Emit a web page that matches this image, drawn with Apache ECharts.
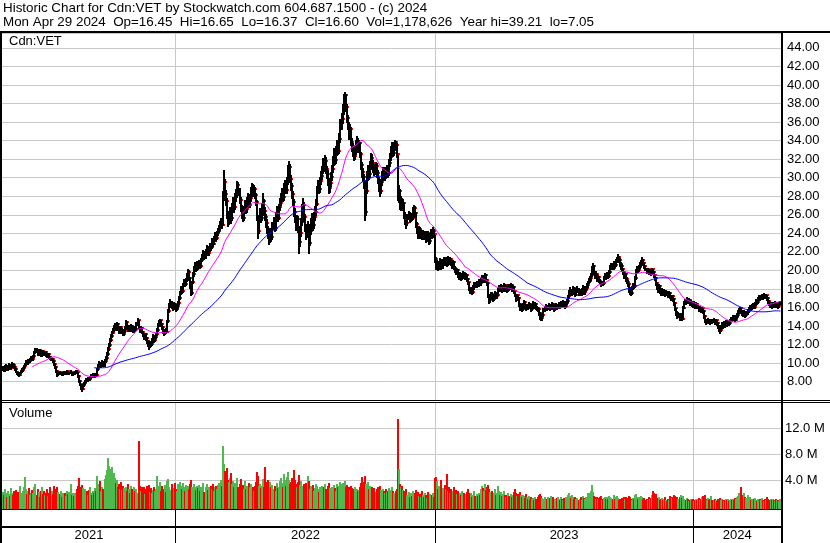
<!DOCTYPE html>
<html><head><meta charset="utf-8">
<script src="https://cdn.jsdelivr.net/npm/echarts/dist/echarts.min.js"></script>
<style>html,body{margin:0;padding:0;background:#fff}#c{width:830px;height:543px}</style>
</head><body><div id="c"></div>
<script>
const titleLine1 = 'Historic Chart for Cdn:VET by Stockwatch.com 604.687.1500 - (c) 2024';
const titleLine2 = 'Mon Apr 29 2024  Op=16.45  Hi=16.65  Lo=16.37  Cl=16.60  Vol=1,178,626  Year hi=39.21  lo=7.05';
const symbolLabel = 'Cdn:VET';
const volumeLabel = 'Volume';
const yearLabels = ['2021', '2022', '2023', '2024'];
const yearStarts = [0, 168, 420, 671];
const maPeriods = [30, 90];

const close = [
9.5,9.3,9.6,9.7,9.4,9.6,9.8,9.5,9.7,9.9,
9.8,9.6,9.4,9.1,8.9,8.8,8.7,9.0,9.2,9.3,
9.5,9.7,9.9,10.1,10.0,10.3,10.2,10.5,10.6,10.4,
10.8,11.2,11.5,11.3,11.0,11.4,11.2,10.9,11.3,11.1,
11.0,11.2,10.9,10.8,11.0,10.7,10.6,10.4,10.5,10.2,
9.9,9.6,9.2,8.8,8.9,9.1,8.9,9.0,8.8,9.0,
9.1,8.9,9.0,9.2,8.9,9.0,9.1,8.8,9.0,8.9,
9.1,9.2,9.0,8.6,8.1,7.7,7.4,7.2,7.6,7.9,
8.1,8.3,8.2,8.4,8.3,8.5,8.7,8.6,8.8,8.6,
8.8,8.7,9.4,9.8,10.0,9.7,9.9,10.1,9.8,10.2,
10.6,11.0,11.5,12.0,12.5,12.9,13.3,13.6,13.9,14.1,
13.8,14.2,13.7,13.5,13.9,13.4,13.6,13.1,13.5,13.8,
14.4,14.0,13.7,13.9,13.6,14.0,13.8,13.5,13.9,13.7,
14.2,14.6,13.9,13.6,13.8,13.4,13.0,12.8,13.1,12.7,
12.4,12.0,11.8,12.3,12.1,12.6,12.9,12.5,12.8,13.1,
13.6,14.1,14.4,14.6,14.2,13.9,13.5,13.2,13.6,13.4,
14.5,15.6,16.3,16.6,16.2,15.9,16.4,16.1,15.8,16.2,
16.5,17.0,17.6,18.1,17.8,18.4,18.8,18.5,19.0,19.4,
19.8,19.2,18.3,17.6,18.7,19.6,20.2,20.6,20.1,20.8,
20.4,20.9,20.5,21.1,21.5,21.9,21.4,22.1,22.4,21.9,
22.3,22.8,22.5,23.2,22.9,23.4,23.8,23.5,24.0,24.3,
24.6,25.0,25.4,24.9,28.0,29.5,28.2,27.5,26.0,25.4,
25.8,26.4,25.6,26.9,27.4,26.8,27.9,28.3,29.2,28.6,
27.6,26.8,26.1,25.7,26.5,27.2,26.6,27.5,27.9,27.1,
27.8,28.6,29.0,28.3,28.8,28.1,27.4,25.8,24.2,25.6,
26.2,25.6,26.8,27.5,26.4,25.8,25.1,24.4,23.9,23.4,
24.2,23.6,24.8,25.3,24.6,25.9,26.4,25.7,26.8,27.3,
27.8,28.4,27.9,28.9,29.3,28.7,29.6,30.8,31.2,29.9,
29.1,28.2,27.4,26.3,25.7,24.9,25.5,24.6,23.1,24.0,
25.2,26.6,27.1,25.8,24.7,23.9,24.8,23.0,24.3,25.1,
25.6,24.9,25.8,26.3,27.2,28.6,29.1,28.8,29.6,30.2,
30.8,31.5,31.1,31.8,30.9,30.4,29.6,28.9,29.4,30.1,
30.9,31.8,32.6,31.9,32.8,33.5,32.9,34.2,35.6,36.3,
37.2,38.4,38.9,37.6,36.4,35.7,34.6,35.2,33.9,33.4,
32.8,32.3,32.9,33.6,34.0,33.2,33.7,32.6,31.4,30.6,
30.1,29.4,26.3,28.6,30.2,30.9,30.4,31.2,32.1,31.6,
31.0,30.7,31.3,30.5,29.8,29.1,28.6,29.5,30.2,30.6,
30.1,30.8,30.4,31.0,30.5,31.6,32.2,32.9,33.4,32.7,
33.3,33.8,33.5,32.6,28.0,28.6,27.0,27.5,26.9,27.3,
26.0,25.4,25.1,25.8,26.0,25.5,25.9,25.7,26.4,26.7,
26.2,25.0,24.3,23.9,24.5,23.8,24.2,23.7,24.1,23.6,
23.9,23.4,24.0,23.5,23.2,23.7,24.1,23.8,24.3,23.9,
21.2,20.5,20.8,20.3,20.7,21.0,20.4,20.9,21.2,20.8,
21.1,20.7,21.3,20.9,21.2,20.8,20.5,20.9,20.3,20.1,
19.8,20.0,19.5,19.3,19.6,19.2,19.5,19.7,19.4,19.3,
19.5,19.1,18.7,18.1,17.8,18.0,17.7,18.2,18.6,18.4,
18.7,18.5,18.9,18.6,19.0,19.3,18.9,19.2,19.5,19.0,
18.6,17.4,16.8,17.1,17.5,17.2,16.9,17.3,17.6,17.2,
17.4,17.9,18.2,18.0,18.3,17.9,18.1,18.4,18.0,18.2,
17.9,18.3,18.1,18.4,18.0,18.2,17.8,17.4,17.0,17.3,
17.0,16.4,15.9,16.2,15.8,16.3,16.6,16.1,15.9,16.2,
16.0,16.4,16.2,15.8,16.3,16.5,16.1,16.4,16.0,15.9,
15.8,15.4,15.0,14.9,15.2,15.7,16.0,16.2,15.9,16.1,
16.3,15.9,16.1,16.4,16.0,15.8,16.2,16.3,16.0,16.2,
16.4,16.2,16.5,16.3,16.6,16.4,16.2,16.5,16.7,17.2,
17.6,17.9,17.5,17.8,18.1,17.7,17.4,17.9,18.0,17.6,
17.8,17.5,17.9,18.2,17.7,17.9,18.1,18.4,18.7,18.9,
19.2,19.5,20.3,20.5,19.8,19.4,19.6,19.1,19.3,18.9,
18.8,18.5,18.7,18.6,19.2,19.5,19.3,19.6,19.4,19.8,
20.4,20.6,20.3,20.8,20.6,21.0,21.3,21.5,21.1,20.7,
20.5,20.1,19.8,19.4,19.6,19.1,18.8,18.5,18.0,17.8,
17.6,18.1,18.4,18.3,19.2,19.9,20.2,20.0,20.4,20.6,
20.9,21.1,20.8,20.5,20.2,19.9,20.1,19.8,20.0,19.7,
20.1,19.8,19.5,19.2,18.6,18.2,17.9,18.3,17.8,17.6,
17.9,17.6,17.8,17.4,17.7,17.5,17.3,17.6,17.2,17.0,
17.2,16.9,16.5,15.9,15.4,15.1,15.3,14.9,15.2,14.8,
16.0,16.5,16.7,16.6,16.9,16.7,16.8,16.5,16.6,16.4,
16.3,16.5,16.2,16.4,16.0,16.1,15.8,16.0,15.7,15.9,
15.6,15.1,14.6,14.4,14.6,14.7,14.5,14.4,14.6,14.5,
14.7,14.4,14.6,14.3,14.0,13.7,13.6,13.9,14.2,14.0,
14.3,14.1,14.4,14.2,14.5,14.3,14.6,14.8,14.7,15.0,
14.9,14.7,15.0,15.2,15.5,15.8,15.9,15.6,15.4,15.3,
15.5,15.2,15.4,15.6,15.9,16.1,15.9,16.2,16.3,16.1,
16.4,16.7,16.6,16.9,17.1,17.0,17.2,17.3,17.1,17.4,
17.2,17.3,17.0,16.7,16.5,16.3,16.4,16.2,16.4,16.3,
16.5,16.3,16.4,16.2,16.5,16.6
];

const high = [
9.7,9.6,9.8,9.9,9.8,9.7,10.0,9.9,9.8,10.1,
10.0,9.9,9.7,9.5,9.2,9.0,8.9,9.1,9.3,9.5,
9.6,9.8,10.0,10.3,10.2,10.4,10.4,10.6,10.8,10.7,
10.9,11.3,11.6,11.6,11.4,11.5,11.5,11.3,11.4,11.4,
11.2,11.3,11.3,11.0,11.1,11.1,10.8,10.7,10.6,10.6,
10.3,10.0,9.7,9.3,9.1,9.2,9.2,9.1,9.1,9.1,
9.2,9.2,9.1,9.3,9.2,9.1,9.3,9.1,9.1,9.1,
9.2,9.3,9.3,9.0,8.7,8.2,7.8,7.5,7.7,8.0,
8.2,8.4,8.4,8.5,8.5,8.6,8.8,8.8,8.9,8.9,
8.9,8.9,9.5,9.9,10.2,10.1,10.0,10.3,10.2,10.4,
10.8,11.2,11.7,12.2,12.7,13.1,13.5,13.8,14.1,14.3,
14.3,14.4,14.3,13.9,14.0,14.0,13.8,13.7,13.6,14.0,
14.6,14.5,14.1,14.1,14.0,14.2,14.1,13.9,14.0,14.0,
14.4,14.9,14.7,14.0,14.0,13.9,13.5,13.1,13.3,13.2,
12.8,12.5,12.1,12.4,12.4,12.7,13.1,13.0,12.9,13.3,
13.8,14.3,14.6,14.8,14.7,14.3,14.0,13.6,13.7,13.8,
14.7,15.8,16.5,16.9,16.7,16.3,16.6,16.5,16.2,16.4,
16.7,17.2,17.8,18.3,18.3,18.6,19.1,19.0,19.2,19.7,
20.1,20.0,19.3,18.5,18.9,19.8,20.5,20.9,20.8,21.0,
21.0,21.1,21.1,21.3,21.8,22.2,22.1,22.3,22.7,22.6,
22.5,23.0,23.0,23.5,23.4,23.7,24.1,24.0,24.3,24.6,
24.9,25.3,25.7,25.6,28.6,30.8,29.9,28.7,27.8,26.4,
26.3,26.8,26.6,27.3,27.9,27.7,28.3,28.8,29.6,29.5,
28.9,27.9,27.1,26.5,26.9,27.6,27.5,27.9,28.3,28.2,
28.2,29.0,29.4,29.3,29.2,29.0,28.4,27.6,26.0,26.0,
26.7,26.5,27.3,28.4,27.7,26.8,26.1,25.5,24.8,24.2,
24.6,24.5,25.2,25.8,25.6,26.3,26.9,26.7,27.2,27.8,
28.3,28.9,28.8,29.4,29.8,29.7,30.1,31.4,31.8,31.5,
30.3,29.4,28.6,27.7,26.7,26.0,26.0,25.9,24.8,24.5,
25.7,27.2,27.8,27.4,26.1,25.0,25.3,25.0,24.8,25.6,
26.2,25.9,26.3,26.9,27.7,29.1,29.7,29.6,30.1,30.7,
31.3,32.1,32.0,32.4,32.2,31.3,30.8,30.0,29.9,30.6,
31.4,32.3,33.2,33.0,33.4,34.1,33.9,34.8,36.3,37.0,
37.9,39.0,39.21,39.0,37.9,36.8,36.0,35.8,35.5,34.3,
33.7,33.2,33.4,34.1,34.5,34.3,34.1,33.9,32.8,31.7,
31.0,30.4,29.6,29.0,30.7,31.4,31.3,31.8,32.7,32.5,
31.9,31.5,31.7,31.6,30.8,30.1,29.4,29.9,30.7,31.1,
30.9,31.2,31.1,31.4,31.3,32.0,32.7,33.4,33.9,33.7,
33.8,34.05,34.0,33.7,32.4,29.2,28.8,28.0,27.8,27.7,
27.4,26.3,25.7,26.1,26.4,26.3,26.2,26.1,26.8,27.1,
26.9,26.3,25.2,24.6,24.8,24.7,24.5,24.4,24.4,24.3,
24.2,24.1,24.3,24.2,23.7,24.0,24.5,24.3,24.7,24.5,
23.8,21.5,21.1,21.0,21.0,21.3,21.2,21.2,21.5,21.4,
21.4,21.3,21.6,21.5,21.5,21.3,21.0,21.1,21.0,20.5,
20.3,20.2,20.1,19.7,19.8,19.7,19.7,19.9,19.8,19.6,
19.7,19.6,19.2,18.8,18.2,18.2,18.1,18.4,18.8,18.8,
18.9,18.9,19.1,19.1,19.2,19.5,19.5,19.4,19.7,19.6,
19.1,18.7,17.5,17.4,17.7,17.7,17.3,17.5,17.8,17.7,
17.6,18.1,18.4,18.4,18.5,18.4,18.3,18.6,18.5,18.4,
18.3,18.5,18.5,18.6,18.5,18.4,18.3,17.9,17.5,17.5,
17.4,17.1,16.5,16.4,16.3,16.5,16.8,16.7,16.3,16.4,
16.3,16.6,16.5,16.3,16.4,16.7,16.6,16.6,16.5,16.2,
16.1,15.9,15.5,15.2,15.4,15.9,16.2,16.4,16.3,16.3,
16.5,16.4,16.3,16.6,16.5,16.1,16.4,16.5,16.4,16.4,
16.6,16.5,16.7,16.6,16.8,16.7,16.5,16.7,16.9,17.4,
17.9,18.2,18.0,18.0,18.3,18.2,17.9,18.1,18.3,18.1,
18.0,18.0,18.1,18.4,18.3,18.1,18.3,18.6,18.9,19.2,
19.4,19.7,20.5,20.8,20.6,19.9,19.9,19.7,19.5,19.4,
19.1,18.9,18.9,18.9,19.4,19.7,19.7,19.8,19.8,20.0,
20.6,20.8,20.8,21.0,21.0,21.2,21.5,21.8,21.6,21.3,
20.9,20.7,20.3,19.9,19.8,19.7,19.3,19.0,18.6,18.2,
18.0,18.3,18.6,18.6,19.4,20.1,20.5,20.4,20.6,20.9,
21.1,21.4,21.2,20.9,20.6,20.3,20.3,20.2,20.2,20.1,
20.3,20.2,19.9,19.6,19.3,18.7,18.3,18.5,18.4,17.9,
18.1,18.0,18.0,17.9,17.9,17.8,17.6,17.8,17.7,17.3,
17.4,17.3,17.0,16.6,16.0,15.6,15.5,15.4,15.4,15.3,
16.2,16.7,16.9,16.9,17.1,17.0,17.0,16.9,16.8,16.7,
16.6,16.7,16.6,16.6,16.5,16.3,16.2,16.2,16.1,16.1,
16.0,15.7,15.2,14.8,14.8,14.9,14.8,14.7,14.8,14.8,
14.9,14.8,14.8,14.7,14.4,14.1,13.9,14.1,14.4,14.3,
14.5,14.4,14.6,14.5,14.7,14.6,14.8,15.0,15.0,15.2,
15.2,15.0,15.2,15.4,15.7,16.0,16.1,16.0,15.7,15.6,
15.7,15.6,15.6,15.8,16.1,16.3,16.2,16.4,16.5,16.4,
16.6,16.9,16.9,17.1,17.3,17.3,17.4,17.5,17.4,17.6,
17.5,17.5,17.4,17.1,16.8,16.6,16.6,16.5,16.6,16.5,
16.7,16.6,16.6,16.5,16.6,16.65
];

const low = [
9.3,9.2,9.2,9.5,9.3,9.3,9.5,9.4,9.4,9.6,
9.7,9.5,9.3,9.0,8.8,8.7,8.6,8.7,8.9,9.1,
9.2,9.4,9.6,9.8,9.9,9.9,10.1,10.1,10.4,10.3,
10.3,10.7,11.1,11.2,10.9,10.9,11.1,10.8,10.8,11.0,
10.9,10.9,10.8,10.7,10.7,10.6,10.5,10.3,10.3,10.1,
9.8,9.5,9.0,8.6,8.7,8.8,8.8,8.8,8.7,8.7,
8.9,8.8,8.8,8.9,8.8,8.8,8.9,8.7,8.7,8.8,
8.8,9.0,8.9,8.5,8.0,7.6,7.2,7.05,7.2,7.5,
7.8,8.0,8.1,8.1,8.2,8.2,8.4,8.5,8.5,8.5,
8.5,8.6,8.7,9.3,9.7,9.6,9.6,9.8,9.7,9.7,
10.1,10.5,10.9,11.4,11.9,12.4,12.8,13.2,13.5,13.7,
13.6,13.7,13.6,13.3,13.4,13.2,13.3,13.0,13.0,13.4,
13.7,13.9,13.5,13.6,13.5,13.5,13.6,13.4,13.4,13.5,
13.6,14.1,13.8,13.4,13.5,13.3,12.9,12.6,12.7,12.5,
12.2,11.8,11.5,11.7,11.9,12.0,12.5,12.3,12.4,12.7,
13.0,13.5,14.0,14.3,14.0,13.7,13.3,13.0,13.1,13.2,
13.4,14.4,15.5,16.1,16.0,15.7,15.8,15.9,15.6,15.7,
16.0,16.4,16.9,17.5,17.6,17.7,18.3,18.3,18.4,18.9,
19.2,19.0,18.1,17.3,17.5,18.6,19.4,20.0,19.9,20.0,
20.2,20.3,20.3,20.4,21.0,21.3,21.2,21.3,21.9,21.7,
21.7,22.1,22.2,22.4,22.6,22.8,23.2,23.2,23.4,23.8,
24.1,24.4,24.8,24.6,24.9,27.6,27.8,27.0,25.6,24.8,
25.0,25.4,25.1,25.4,26.5,26.3,26.6,27.5,27.9,28.1,
27.3,26.4,25.7,25.3,25.4,26.2,26.2,26.3,27.2,26.8,
26.8,27.5,28.3,28.0,28.0,27.8,27.0,25.4,23.5,24.0,
25.3,25.2,25.4,26.5,26.0,25.4,24.7,24.0,23.5,22.8,
23.1,23.2,23.4,24.5,24.2,24.4,25.6,25.3,25.5,26.5,
27.0,27.5,27.5,27.6,28.5,28.3,28.4,29.3,30.4,29.5,
28.7,27.8,27.0,25.9,25.2,24.4,24.5,24.1,21.9,22.6,
23.7,24.9,26.3,25.3,24.2,23.4,23.6,21.9,22.7,23.9,
24.7,24.4,24.6,25.4,26.0,27.0,28.3,28.3,28.5,29.3,
29.9,30.5,30.7,30.8,30.5,30.0,29.2,28.3,28.5,29.1,
29.8,30.6,31.4,31.5,31.6,32.4,32.5,32.7,33.9,35.2,
35.9,36.9,38.0,37.2,36.0,35.2,34.2,34.3,33.5,32.9,
32.3,31.9,32.0,32.6,33.3,32.8,32.9,32.2,30.9,30.1,
29.6,28.9,25.4,26.0,28.3,29.8,29.9,30.1,30.9,31.2,
30.6,30.3,30.4,30.1,29.4,28.6,28.0,28.3,29.2,29.9,
29.7,29.8,30.0,30.1,30.1,30.3,31.3,31.9,32.6,32.3,
32.4,33.0,33.1,32.2,27.6,27.4,26.6,26.5,26.5,26.6,
25.7,25.0,24.6,24.9,25.5,25.2,25.3,25.4,25.5,26.2,
25.8,24.7,24.0,23.5,23.7,23.5,23.6,23.4,23.5,23.4,
23.4,23.1,23.2,23.3,22.9,23.0,23.5,23.5,23.6,23.6,
20.9,20.1,20.2,20.0,20.1,20.5,20.2,20.3,20.7,20.6,
20.6,20.5,20.6,20.7,20.8,20.6,20.3,20.3,20.1,19.8,
19.6,19.6,19.3,19.1,19.2,19.0,19.1,19.4,19.2,19.1,
19.1,18.9,18.5,17.9,17.6,17.6,17.5,17.6,18.0,18.2,
18.2,18.3,18.3,18.4,18.4,18.8,18.7,18.7,19.0,18.8,
18.4,17.1,16.5,16.6,16.9,17.0,16.7,16.8,17.1,17.0,
17.0,17.3,17.8,17.8,17.9,17.7,17.8,18.0,17.8,17.9,
17.7,17.8,17.9,18.0,17.8,17.9,17.6,17.2,16.7,16.9,
16.8,16.2,15.7,15.7,15.6,15.7,16.1,15.9,15.7,15.8,
15.8,15.9,16.0,15.6,15.7,16.2,15.9,16.0,15.8,15.7,
15.6,15.2,14.8,14.6,14.7,15.1,15.6,15.9,15.7,15.8,
16.0,15.7,15.8,16.0,15.8,15.6,15.7,16.0,15.8,15.9,
16.1,16.0,16.1,16.1,16.2,16.2,16.0,16.1,16.4,16.6,
17.0,17.4,17.3,17.3,17.6,17.5,17.2,17.3,17.7,17.4,
17.4,17.3,17.4,17.8,17.5,17.5,17.8,18.0,18.2,18.6,
18.8,19.0,19.4,20.1,19.6,19.2,19.3,18.9,18.9,18.7,
18.6,18.3,18.4,18.4,18.5,19.1,19.1,19.2,19.2,19.3,
19.7,20.2,20.1,20.2,20.4,20.5,20.9,21.1,20.9,20.5,
20.2,19.9,19.6,19.2,19.2,18.9,18.6,18.3,17.7,17.5,
17.4,17.5,18.0,18.1,18.2,19.1,19.8,19.8,19.9,20.3,
20.5,20.8,20.6,20.3,20.0,19.7,19.8,19.6,19.7,19.5,
19.6,19.6,19.3,19.0,18.4,18.0,17.7,17.8,17.6,17.4,
17.5,17.4,17.5,17.2,17.3,17.3,17.1,17.2,17.0,16.8,
16.9,16.7,16.3,15.7,15.2,14.9,15.0,14.7,14.6,14.6,
14.8,15.9,16.4,16.4,16.5,16.5,16.6,16.3,16.4,16.2,
16.1,16.2,16.0,16.1,15.9,15.9,15.6,15.7,15.5,15.6,
15.4,14.9,14.4,14.2,14.3,14.4,14.3,14.2,14.3,14.3,
14.4,14.2,14.3,14.1,13.8,13.5,13.3,13.5,13.8,13.8,
13.9,13.9,14.0,14.0,14.1,14.1,14.2,14.5,14.5,14.6,
14.7,14.5,14.6,14.9,15.1,15.4,15.6,15.4,15.2,15.1,
15.1,15.0,15.1,15.3,15.5,15.8,15.7,15.8,16.0,15.9,
16.0,16.3,16.4,16.5,16.8,16.8,16.9,17.0,16.9,17.0,
17.0,17.0,16.8,16.5,16.3,16.1,16.2,16.0,16.1,16.1,
16.2,16.1,16.2,16.0,16.1,16.37
];

// daily volume, millions of shares
const volume = [
2.2,1.8,2.6,2.0,1.5,2.4,1.9,1.6,2.8,2.1,
1.7,2.3,1.4,2.5,1.9,2.2,1.6,3.1,2.0,1.8,
2.4,3.0,4.5,2.7,1.9,2.3,2.8,1.7,2.1,2.5,
2.0,2.9,3.4,1.8,2.6,2.2,1.5,2.4,3.0,1.9,
2.3,1.7,2.1,2.6,1.6,2.0,2.9,1.8,2.4,1.9,
3.2,2.6,1.8,2.9,2.2,1.7,1.9,2.3,1.5,2.0,
1.8,2.1,1.6,2.4,1.9,2.2,3.4,1.7,2.0,1.6,
2.1,1.8,2.6,3.1,4.4,3.0,2.5,3.3,2.8,2.2,
2.6,1.9,2.3,1.8,2.5,3.0,2.1,1.7,2.4,2.0,
2.8,2.3,4.6,3.5,2.7,3.9,2.4,3.0,2.6,4.2,
4.8,5.6,7.4,6.2,5.8,4.9,6.0,3.8,5.2,4.4,
3.6,4.1,2.9,3.4,2.6,3.8,2.5,3.2,2.8,2.3,
3.0,2.4,3.5,2.7,2.1,3.2,2.6,2.0,2.9,2.4,
2.6,2.1,10.1,3.2,2.4,2.9,2.2,3.0,1.9,2.6,
3.1,2.7,3.3,2.2,2.8,2.0,2.5,3.0,2.3,2.7,
4.7,3.2,2.6,3.8,2.4,3.1,2.0,2.7,3.3,2.2,
3.9,4.2,3.0,2.5,3.4,2.1,2.8,3.6,2.6,2.3,
3.5,2.9,3.8,3.1,2.7,3.6,3.0,2.4,3.3,2.8,
3.2,2.7,3.5,4.1,3.0,2.6,3.4,2.9,2.5,3.1,
2.8,3.3,2.4,3.0,2.6,3.6,2.2,2.9,3.4,2.5,
3.0,2.5,3.2,2.7,3.5,2.3,2.9,3.1,2.6,3.3,
3.6,2.8,4.0,3.2,9.3,6.5,5.4,4.6,5.9,4.1,
3.8,4.3,5.1,3.4,3.9,2.9,3.6,3.2,4.4,3.0,
3.5,4.2,2.8,3.3,2.6,3.9,2.7,3.1,2.4,3.6,
2.9,3.4,2.6,3.0,2.3,3.2,3.7,5.3,4.6,3.1,
3.4,2.8,3.1,4.2,3.0,6.1,3.7,3.2,4.0,3.5,
3.8,2.9,3.3,2.6,3.1,2.4,3.6,2.8,3.0,3.9,
4.3,3.6,2.9,4.9,4.1,3.2,4.5,5.3,4.0,3.4,
3.8,4.4,3.2,5.6,4.1,3.5,2.9,3.7,4.8,3.3,
3.9,3.1,2.6,3.4,2.8,3.6,4.6,3.9,2.7,3.2,
2.9,3.3,2.4,2.8,3.5,3.1,2.6,2.2,3.0,2.7,
3.2,2.5,2.9,3.4,2.7,2.3,3.1,3.6,2.8,2.4,
3.0,2.6,3.3,2.8,2.4,3.5,2.9,3.2,3.8,3.4,
3.6,3.1,3.9,2.9,3.3,2.7,3.0,2.5,3.2,2.8,
2.6,2.2,2.9,2.4,2.7,2.3,2.5,2.9,3.6,4.5,
3.3,3.8,4.6,3.4,3.0,3.7,2.7,3.2,2.5,2.9,
2.4,2.8,2.2,2.6,2.9,2.3,3.1,2.5,2.1,2.7,
2.3,2.0,2.6,2.2,2.4,2.8,2.1,2.5,2.9,2.3,
2.1,1.8,2.4,2.6,13.5,5.8,3.4,2.9,3.2,2.5,
2.3,1.9,2.6,1.7,2.2,1.5,2.0,1.6,2.4,1.8,
2.1,2.5,1.7,2.2,1.6,1.9,1.4,2.3,1.8,1.5,
2.0,1.7,1.3,2.2,1.6,1.9,1.4,1.8,2.1,1.5,
4.3,4.5,3.9,2.6,3.1,2.2,4.1,2.8,2.4,3.3,
2.7,5.0,2.3,3.0,2.1,2.6,2.0,2.4,2.9,2.2,
2.5,1.9,2.3,1.7,2.1,1.8,2.4,1.6,2.0,1.5,
1.9,2.2,2.6,2.0,1.7,2.1,1.5,1.8,2.3,1.6,
1.9,1.6,2.1,1.7,2.6,3.2,2.8,2.4,3.4,2.5,
2.9,3.3,2.7,2.2,1.9,2.4,1.7,2.1,2.6,1.8,
2.0,3.1,2.4,1.8,2.2,1.6,1.9,2.3,1.7,1.5,
1.8,2.1,1.6,1.9,1.4,1.7,2.2,2.6,2.0,1.6,
1.9,1.5,2.2,1.7,1.4,1.8,1.6,1.3,1.9,1.5,
1.2,1.6,1.0,1.4,1.1,1.3,0.9,1.5,1.2,1.0,
1.4,1.7,1.9,1.6,1.3,1.1,1.5,0.9,1.2,1.4,
1.0,1.3,1.6,1.1,1.4,0.9,1.2,1.0,1.3,1.5,
1.1,0.9,1.4,1.2,1.0,1.3,1.1,1.5,1.2,1.8,
2.0,1.6,1.3,1.7,1.4,1.2,1.5,1.1,1.3,1.0,
1.2,1.4,1.0,1.6,1.3,1.1,1.5,1.2,2.1,2.0,
1.8,2.4,3.3,2.2,1.6,1.4,1.2,1.5,1.1,1.3,
1.4,1.6,1.0,1.2,1.3,1.5,1.1,1.4,1.2,1.6,
1.5,1.3,1.1,1.7,1.2,1.4,1.6,1.3,1.0,1.2,
1.1,1.3,1.0,1.4,1.2,1.5,1.1,1.3,1.6,1.4,
1.2,1.0,1.3,1.1,1.7,1.9,1.4,1.2,1.5,1.3,
1.6,1.4,1.1,1.3,1.0,1.2,0.9,1.4,1.1,1.3,
1.8,2.4,2.1,1.5,1.9,1.3,1.1,1.4,1.0,1.2,
1.3,0.9,1.1,1.4,1.0,0.8,1.2,1.0,1.6,1.4,
1.3,1.5,1.7,1.6,1.2,1.4,1.1,1.5,1.7,1.3,
1.6,1.2,1.0,0.9,1.3,1.1,0.8,1.0,1.2,0.9,
1.1,0.8,1.0,1.2,0.9,1.1,1.3,1.0,1.2,1.5,
1.6,1.4,1.7,1.2,1.0,1.3,0.9,1.1,1.6,1.0,
0.9,1.1,1.0,0.8,1.2,1.0,1.3,0.9,1.1,1.0,
0.8,1.0,1.2,0.9,1.1,0.8,1.0,1.2,0.9,1.1,
1.0,1.3,1.2,1.5,1.6,2.1,1.4,2.9,1.8,1.2,
2.0,1.5,1.3,1.7,1.1,1.4,1.0,1.2,0.9,1.1,
1.3,1.0,0.8,1.2,1.0,1.1,0.9,1.3,1.0,0.8,
1.1,0.9,1.4,1.2,1.0,0.8,1.1,0.9,1.2,1.0,
0.8,1.1,0.9,1.0,0.8,1.18
];

const FONT = '"Liberation Sans", Arial, sans-serif';
const GRID_GREY = '#c8c8c8';
const UP = '#4fb84f', DOWN = '#ff0000', FLAT = '#a0a0a0';

const N = close.length;
const days = close.map((_, i) => String(i));
const boundaries = yearStarts.slice(1);
const yearMids = yearStarts.map((s, k) => Math.floor((s + (k + 1 < yearStarts.length ? yearStarts[k + 1] : N)) / 2));

function sma(arr, n) {
  const out = [];
  let sum = 0;
  for (let i = 0; i < arr.length; i++) {
    sum += arr[i];
    if (i >= n) sum -= arr[i - n];
    out.push(i >= n - 1 ? +(sum / n).toFixed(3) : null);
  }
  return out;
}
const maFast = sma(close, maPeriods[0]);
const maSlow = sma(close, maPeriods[1]);
const volColor = close.map((c, i) => i === 0 ? UP : (c > close[i - 1] ? UP : (c < close[i - 1] ? DOWN : FLAT)));

function renderHLC(params, api) {
  const i = api.value(0);
  const pH = api.coord([i, api.value(1)]);
  const pL = api.coord([i, api.value(2)]);
  const pC = api.coord([i, api.value(3)]);
  const x = Math.round(pH[0]);
  const yH = Math.round(pH[1]);
  const yL = Math.round(pL[1]);
  const yC = Math.round(pC[1]);
  return {
    type: 'group',
    children: [
      { type: 'rect', shape: { x: x - 1, y: yH, width: 2, height: Math.max(2, yL - yH + 1) }, style: { fill: '#000' } },
      { type: 'rect', shape: { x: x + 1, y: yC - 1, width: 2, height: 2 }, style: { fill: '#ff0000' } }
    ]
  };
}

function renderVol(params, api) {
  const i = api.value(0);
  const top = api.coord([i, api.value(1)]);
  const base = Math.round(params.coordSys.y + params.coordSys.height) + 3;
  const x = Math.round(top[0]);
  const yT = Math.round(top[1]);
  return {
    type: 'rect',
    shape: { x: x - 1, y: yT, width: 2, height: base - yT },
    style: { fill: volColor[i] }
  };
}

const txt = { fontFamily: FONT, fontSize: 13, fontWeight: 'normal', color: '#000' };
const hiddenX = (gi) => ({
  type: 'category', gridIndex: gi, data: days, boundaryGap: true,
  axisLine: { show: false }, axisTick: { show: false }, axisLabel: { show: false },
  splitLine: { show: true, interval: (idx) => boundaries.includes(idx), lineStyle: { color: GRID_GREY, width: 1 } }
});

const chart = echarts.init(document.getElementById('c'), null, { renderer: 'canvas' });
chart.setOption({
  animation: false,
  backgroundColor: '#ffffff',
  title: [
    { text: titleLine1 + '\n' + titleLine2, left: 3, top: 1, padding: 0,
      textStyle: { fontFamily: FONT, fontSize: 13.4, fontWeight: 'normal', color: '#000', lineHeight: 14 } },
    { text: symbolLabel, left: 9, top: 35, padding: 0, textStyle: txt },
    { text: volumeLabel, left: 9, top: 407, padding: 0, textStyle: txt }
  ],
  grid: [
    { left: 2, top: 33, width: 779, height: 367.25 },
    { left: 2, top: 402.3, width: 779, height: 104 },
    { left: 2, top: 509, width: 779, height: 18 }
  ],
  xAxis: [
    hiddenX(0),
    hiddenX(1),
    {
      type: 'category', gridIndex: 2, data: days, boundaryGap: true, position: 'bottom',
      axisLine: { show: true, lineStyle: { color: '#000', width: 2 } },
      axisTick: { show: true, interval: (idx) => boundaries.includes(idx), length: 16, lineStyle: { color: '#000', width: 1 } },
      axisLabel: {
        show: true, margin: 2, fontFamily: FONT, fontSize: 13, color: '#000',
        interval: (idx) => yearMids.includes(idx),
        formatter: (v) => { const k = yearMids.indexOf(Number(v)); return k >= 0 ? yearLabels[k] : ''; }
      },
      splitLine: { show: true, interval: (idx) => boundaries.includes(idx), lineStyle: { color: '#000', width: 1 } }
    }
  ],
  yAxis: [
    {
      type: 'value', gridIndex: 0, position: 'right', min: 6, max: 45.6, interval: 2,
      axisLine: { show: false }, axisTick: { show: false },
      splitLine: { show: true, lineStyle: { color: GRID_GREY, width: 1 } },
      axisLabel: { margin: 6, fontFamily: FONT, fontSize: 13, color: '#000',
        formatter: (v) => (v >= 7 && v <= 44.5) ? v.toFixed(2) : '' }
    },
    {
      type: 'value', gridIndex: 1, position: 'right', min: 0, max: 16, interval: 4,
      axisLine: { show: false }, axisTick: { show: false },
      splitLine: { show: true, lineStyle: { color: GRID_GREY, width: 1 } },
      axisLabel: { margin: 4, fontFamily: FONT, fontSize: 13, color: '#000',
        formatter: (v) => (v > 0 && v < 16) ? v.toFixed(1) + ' M' : '' }
    },
    { type: 'value', gridIndex: 2, show: false, min: 0, max: 1 }
  ],
  series: [
    {
      type: 'custom', name: 'Cdn:VET', xAxisIndex: 0, yAxisIndex: 0, silent: true, z: 2,
      renderItem: renderHLC, encode: { x: 0, y: [1, 2, 3] },
      data: close.map((c, i) => [i, high[i], low[i], c])
    },
    {
      type: 'line', name: 'MA' + maPeriods[0], xAxisIndex: 0, yAxisIndex: 0, silent: true, z: 4,
      data: maFast, showSymbol: false, symbol: 'none',
      lineStyle: { color: '#ff00ff', width: 1 }
    },
    {
      type: 'line', name: 'MA' + maPeriods[1], xAxisIndex: 0, yAxisIndex: 0, silent: true, z: 4,
      data: maSlow, showSymbol: false, symbol: 'none',
      lineStyle: { color: '#0000ff', width: 1 }
    },
    {
      type: 'custom', name: 'Volume', xAxisIndex: 1, yAxisIndex: 1, silent: true, z: 2,
      renderItem: renderVol, encode: { x: 0, y: 1 },
      data: volume.map((v, i) => [i, v])
    }
  ],
  graphic: [
    { type: 'rect', z: 100, silent: true, shape: { x: 0, y: 31, width: 830, height: 2 }, style: { fill: '#000' } },
    { type: 'rect', z: 100, silent: true, shape: { x: 0, y: 31, width: 2, height: 512 }, style: { fill: '#000' } },
    { type: 'rect', z: 100, silent: true, shape: { x: 781, y: 31, width: 2, height: 512 }, style: { fill: '#000' } },
    { type: 'rect', z: 100, silent: true, shape: { x: 0, y: 400, width: 830, height: 1 }, style: { fill: '#000' } },
    { type: 'rect', z: 100, silent: true, shape: { x: 0, y: 402, width: 830, height: 1 }, style: { fill: '#000' } },
    { type: 'rect', z: 100, silent: true, shape: { x: 0, y: 509, width: 783, height: 1 }, style: { fill: '#000' } }
  ]
});
</script></body></html>
